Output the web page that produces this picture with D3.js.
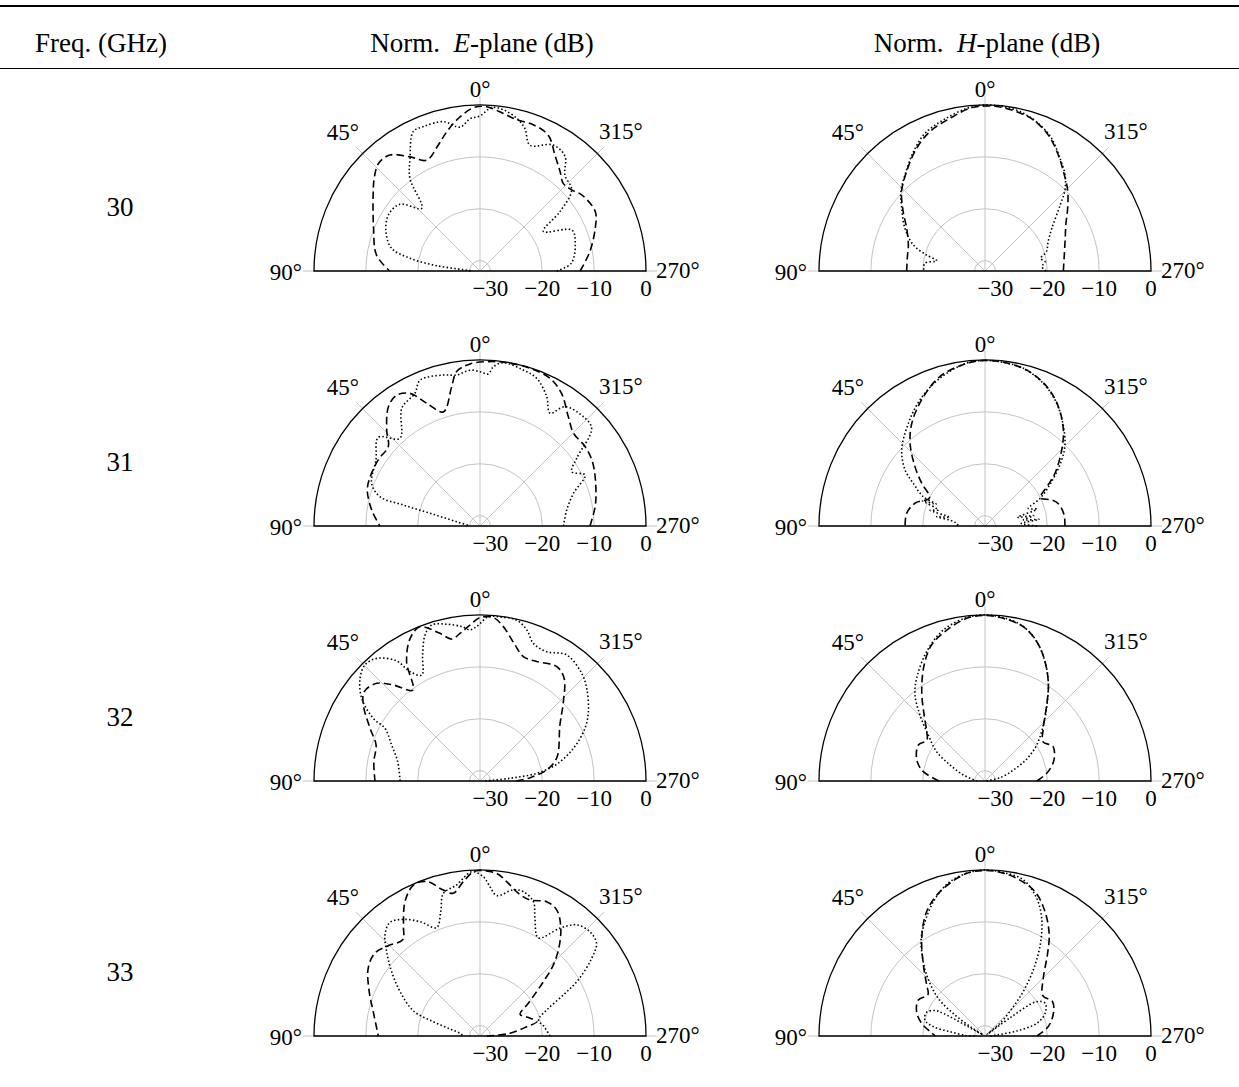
<!DOCTYPE html>
<html>
<head>
<meta charset="utf-8">
<script src="https://cdn.jsdelivr.net/npm/d3@7"></script>
<style>
  body { margin: 0; background: #fff; }
  svg { display: block; }
  text { font-family: "Liberation Serif", "Times New Roman", serif; fill: #000; }
</style>
</head>
<body>
<svg id="chart" width="1239" height="1087"></svg>
<script>
// Table contents
const frequencies = ["30", "31", "32", "33"];
const radialTicks = [-30, -20, -10, 0];            // dB rings
const angleTicks = [0, 45, 315];                     // spokes with labels
const sideLabels = ["90°", "270°"];

// Patterns: [angle in degrees, level in dB].
// Positive angles run toward 90° (left), negative angles are 270°..360° (right, angle − 360).
const e30Dashed = [[-90,-12.7],[-80,-10.5],[-69.6,-8.3],[-62.7,-7.0],[-53.2,-7.5],[-48.5,-8.4],[-43.5,-8.7],[-38.9,-7.4],[-32.9,-5.4],[-26.7,-2.7],[-20,-2.0],[-13.7,-2.0],[-8.4,-1.3],[-2.3,-0.3],[2.3,-0.5],[8.1,-2.3],[13.4,-4.4],[18.3,-6.4],[25.7,-8.3],[31.5,-6.2],[37.8,-3.7],[43.4,-3.5],[48.8,-4.9],[54.5,-6.7],[68.2,-9.9],[81.2,-11.8],[90,-14.6]];
const e30Dotted = [[-90,-17.2],[-85,-14.3],[-73,-12.8],[-66,-12.6],[-58,-17.6],[-53.4,-12.8],[-48.5,-8.4],[-41.5,-7.3],[-36.6,-4.5],[-30.2,-3.9],[-21.6,-5.9],[-17.5,-3.2],[-13.5,-1.7],[-8.2,-0.6],[-4.1,-0.4],[0,-2.1],[3.8,-2.6],[7.9,-4.0],[13.8,-2.35],[21.4,-2.1],[25.6,-2.2],[31.8,-6.4],[37.1,-9.6],[42.9,-15.5],[50.2,-11.9],[58.6,-11.3],[67.3,-12.35],[75.6,-14.4],[79.7,-18.3],[83,-23.6],[85.5,-28.8],[90,-30.4]];

const h30Dashed = [[-90,-16.9],[-80,-16.5],[-67.8,-15.3],[-60,-14.0],[-52.8,-12.0],[-45.6,-9.7],[-38.3,-7.6],[-32.3,-5.55],[-25,-3.1],[-17.7,-1.4],[-11.3,-0.7],[-5.2,-0.25],[0,-0.2],[5.3,-0.5],[12.9,-1.8],[21.5,-3.1],[29.1,-4.9],[38.3,-7.6],[46.4,-9.8],[54,-12.5],[61.4,-14.8],[71.3,-16.4],[80,-16.8],[90,-16.9]];
const h30Dotted = [[-90,-20.2],[-85.7,-21.0],[-81.2,-20.3],[-77.2,-21.0],[-72.6,-19.6],[-65.2,-18.6],[-57.4,-16.7],[-48.7,-12.7],[-44.6,-10.05],[-39.8,-7.9],[-33.6,-5.9],[-26.7,-3.4],[-20.6,-1.9],[-13.7,-0.7],[-6.4,-0.1],[0,0],[6.4,-0.45],[15.4,-1.8],[23.5,-3.05],[31,-5.2],[39.8,-7.9],[46.6,-9.7],[53,-11.9],[61.9,-14.5],[70,-17.3],[74.7,-20.3],[78,-22.5],[82.7,-20.3],[90,-20.2]];

const e31Dashed = [[-90,-10.8],[-80.5,-9.5],[-72.8,-8.6],[-60.9,-7.1],[-53,-6.6],[-45.2,-6.6],[-38.9,-4.9],[-31.6,-2.0],[-25.4,-0.5],[-17.6,-0.1],[-10.4,-0.1],[-4.6,-0.2],[3.5,-0.7],[8.6,-1.9],[11.5,-4.6],[17.8,-8.9],[23.5,-6.2],[27.8,-3.1],[32.5,-2.1],[37.5,-3.0],[44.2,-6.2],[49.1,-8.6],[57,-8.6],[65.9,-8.8],[72.3,-9.2],[81.6,-10.9],[90,-12.7]];
const e31Dotted = [[-90,-15.9],[-79.5,-15.0],[-70.7,-12.9],[-64.1,-9.5],[-59.4,-11.45],[-55,-9.25],[-48.8,-3.4],[-43.4,-3.0],[-35.5,-3.75],[-31.8,-6.4],[-27.3,-3.95],[-21,-1.5],[-15.5,-0.8],[-8.1,-0.2],[-4.8,-1.2],[-3.1,-2.65],[0,-2.25],[3.7,-1.9],[8.8,-2.55],[13.7,-2.05],[22.3,-1.6],[26.1,-3.5],[33.6,-4.75],[42.4,-9.1],[48.9,-6.0],[57.6,-8.25],[68.5,-9.55],[73.7,-11.9],[74.7,-16.7],[75.7,-22.05],[79.5,-27.4],[90,-30.1]];

const h31Dashed = [[-90,-16.6],[-82,-16.6],[-73.3,-17.2],[-68.7,-18.2],[-63,-20.0],[-57,-17.5],[-53,-15.1],[-45.3,-11.2],[-39.2,-8.1],[-31.6,-5.0],[-23.9,-2.6],[-15,-0.9],[-6.4,-0.25],[0,-0.1],[6.4,-0.45],[16.8,-1.9],[26.7,-4.8],[35.5,-7.7],[42.2,-10.5],[49.7,-14.3],[56,-17.3],[63,-20.0],[72,-17.8],[80.8,-16.7],[90,-16.6]];
const h31Dotted = [[-90,-22.0],[-86,-25.0],[-83,-21.5],[-81,-24.5],[-78,-22.4],[-75,-25.5],[-72,-21.5],[-68,-23.0],[-63.3,-20.1],[-56.4,-16.6],[-49.3,-12.5],[-44.6,-10.05],[-38.3,-7.6],[-30.3,-4.6],[-22.2,-2.3],[-13.7,-0.7],[-6.4,-0.25],[0,-0.1],[6.4,-0.4],[16.9,-2.2],[27.3,-4.65],[36.7,-7.3],[47.6,-10.25],[55,-13.2],[59.2,-15.9],[64.6,-18.8],[66,-21.7],[68,-19.0],[71,-22.5],[74,-21.0],[76,-25.0],[79,-22.5],[82,-26.0],[86,-26.5],[90,-27.2]];

const e32Dashed = [[-90,-25.0],[-86.2,-22.3],[-80.6,-19.0],[-73,-16.5],[-55,-13.2],[-46.4,-9.8],[-39.3,-6.4],[-33.9,-5.45],[-25.4,-6.5],[-19.2,-6.6],[-14.4,-4.9],[-8.6,-1.9],[-4.7,-0.4],[0,-0.5],[3.7,-1.9],[7.7,-3.3],[11.3,-4.1],[15.2,-2.5],[21.3,-0.1],[26.1,-1.4],[31.6,-5.0],[36.5,-10.2],[42.1,-7.05],[46.6,-4.6],[52.3,-3.8],[56.9,-5.15],[64.4,-8.5],[70.9,-10.8],[79.7,-11.2],[90,-11.75]];
const e32Dotted = [[-90,-31.0],[-84.9,-26.2],[-82.3,-21.0],[-77.7,-16.9],[-70.7,-12.9],[-63.3,-9.35],[-57.4,-7.2],[-49,-4.75],[-43.4,-3.45],[-34.5,-2.5],[-27.3,-3.95],[-21.2,-3.55],[-17.2,-1.5],[-12.8,-0.2],[-7,-0.15],[-2.9,-0.3],[1.2,-2.2],[3.8,-2.8],[6.8,-2.0],[12,-1.1],[17.2,-0.5],[20.6,-1.9],[24.5,-5.3],[28.8,-8.7],[32.6,-7.0],[34.8,-3.8],[40.1,-1.1],[44.8,-0.5],[49.4,-1.55],[55,-4.15],[59.6,-8.15],[61,-11.05],[67.8,-13.6],[76.8,-15.7],[90,-16.6]];

const h32Dashed = [[-90,-22.0],[-82.9,-20.0],[-73.1,-18.1],[-63,-17.3],[-56,-18.5],[-47.9,-16.85],[-39,-13.1],[-33.4,-9.8],[-26.7,-6.25],[-20.4,-3.35],[-13.9,-1.35],[-6.4,-0.45],[0,-0.1],[6.4,-0.45],[14.2,-2.0],[21.4,-3.8],[27.7,-6.75],[35.3,-10.9],[42.7,-14.7],[49.8,-17.3],[55,-18.3],[61.6,-17.4],[71.6,-18.1],[80.1,-19.6],[88.8,-22.7],[90,-23.3]];
const h32Dotted = [[-90,-31.7],[-77.6,-29.0],[-68.8,-26.1],[-62.2,-22.9],[-55.1,-19.85],[-46.2,-16.4],[-38.2,-12.55],[-32.5,-9.3],[-26.7,-6.25],[-20.4,-3.35],[-13.9,-1.3],[-6.4,-0.3],[0,0],[6.4,-0.3],[15.4,-1.8],[24.3,-4.65],[33.6,-8.2],[39.1,-10.6],[44.6,-14.15],[50.9,-17.9],[58.8,-21.1],[65.4,-24.6],[74.5,-27.7],[90,-30.4]];

const e33Dashed = [[-90,-30.7],[-84.9,-26.2],[-78.7,-22.8],[-75.8,-20.7],[-69.2,-22.0],[-61.5,-23.2],[-55.9,-20.75],[-49.4,-15.9],[-45.9,-12.3],[-41.1,-8.7],[-36,-5.55],[-31.3,-3.55],[-26.4,-3.1],[-20.2,-4.05],[-15,-3.5],[-9.8,-1.8],[-5.9,-0.5],[0,-0.1],[2.3,-0.3],[6.2,-2.1],[10.6,-4.0],[14.1,-3.0],[19,-0.5],[23.8,-0.2],[29.2,-2.35],[34.6,-6.0],[38.8,-8.2],[45.4,-7.2],[51.8,-6.2],[58.8,-6.8],[68.2,-9.0],[77.2,-10.9],[90,-12.4]];
const e33Dotted = [[-90,-18.5],[-81.7,-19.5],[-74.7,-20.3],[-68.7,-18.2],[-63.8,-14.1],[-60.3,-10.2],[-55.2,-5.8],[-51.5,-3.3],[-46.5,-2.8],[-41,-3.6],[-36.6,-6.1],[-30.7,-10.0],[-25,-6.95],[-21.7,-4.15],[-16.7,-2.95],[-12.8,-3.1],[-6.8,-4.75],[-3.8,-3.15],[-1.2,-1.3],[2.9,-0.3],[9,-2.6],[14.4,-3.6],[17.5,-6.85],[21.8,-9.5],[27.7,-7.1],[33.3,-5.1],[38.4,-4.05],[43.2,-5.25],[48.9,-8.3],[53.9,-10.9],[61,-14.4],[69.4,-18.3],[73,-22.6],[76.9,-26.1],[82.3,-28.1],[90,-28.8]];

const h33Dashed = [[-90,-22.0],[-81.6,-19.7],[-71.6,-18.1],[-63.1,-17.4],[-55,-18.4],[-45.3,-16.2],[-37.6,-12.3],[-32.4,-8.9],[-25.8,-5.4],[-19.1,-2.55],[-11.4,-1.0],[-5.2,-0.3],[0,-0.1],[6.4,-0.45],[17.3,-2.85],[25.1,-5.5],[32.9,-9.55],[41,-13.9],[48.8,-17.05],[54,-18.4],[61.6,-17.4],[70.4,-18.0],[78.7,-19.55],[85.5,-21.4],[90,-22.4]];
const h33Dotted = [[-90,-31.0],[-85,-29.7],[-81,-25.8],[-76.2,-21.7],[-69.3,-19.6],[-61.4,-18.8],[-56.4,-20.05],[-54,-26.0],[-52,-31.5],[-49.8,-28.2],[-44,-24.1],[-40,-20.0],[-35.2,-15.3],[-30.6,-10.9],[-25.7,-6.8],[-20.6,-3.65],[-13.8,-1.0],[-5,-0.2],[0,0],[5.2,-0.3],[12.8,-1.5],[21,-4.25],[32.1,-9.0],[36.9,-11.7],[43.7,-15.7],[51.1,-20.4],[55,-25.0],[58,-29.0],[60,-31.5],[61.5,-23.0],[63,-21.2],[67.9,-19.85],[75.1,-20.0],[79.8,-21.9],[83,-25.2],[89,-28.5],[90,-30.0]];

const ePlane = [[e30Dashed, e30Dotted], [e31Dashed, e31Dotted], [e32Dashed, e32Dotted], [e33Dashed, e33Dotted]];
const hPlane = [[h30Dashed, h30Dotted], [h31Dashed, h31Dotted], [h32Dashed, h32Dotted], [h33Dashed, h33Dotted]];

// Layout
const W = 1239;
const R = 166;
const colX = { freq: 120, e: 480, h: 985 };
const rowY = i => 271 + i * 255;
const gridColor = "#c4c4c4";

const svg = d3.select("#chart");
const rad = d => d * Math.PI / 180;
const rScale = d3.scaleLinear().domain([-32, 0]).range([0, R]);

// Table rules and header
svg.append("line").attr("x1", 0).attr("x2", W).attr("y1", 6).attr("y2", 6)
  .attr("stroke", "#000").attr("stroke-width", 1.8);
svg.append("line").attr("x1", 0).attr("x2", W).attr("y1", 68.5).attr("y2", 68.5)
  .attr("stroke", "#000").attr("stroke-width", 1.2);

const header = svg.append("g").attr("font-size", 27);
header.append("text").attr("x", 101).attr("y", 52).attr("text-anchor", "middle")
  .text("Freq. (GHz)");
[["e", "E"], ["h", "H"]].forEach(([key, letter]) => {
  const t = header.append("text").attr("x", colX[key] + 2).attr("y", 52).attr("text-anchor", "middle")
    .attr("xml:space", "preserve");
  t.append("tspan").text("Norm.  ");
  t.append("tspan").attr("font-style", "italic").text(letter);
  t.append("tspan").text("-plane (dB)");
});

// Row labels
frequencies.forEach((f, i) => {
  svg.append("text").attr("x", colX.freq).attr("y", rowY(i) - 55)
    .attr("text-anchor", "middle").attr("font-size", 27).text(f);
});

const line = d3.lineRadial()
  .angle(d => -rad(d[0]))
  .radius(d => rScale(Math.max(-32, d[1])))
  .curve(d3.curveCatmullRom.alpha(0.5));

function drawPanel(cx, cy, dashed, dotted) {
  const g = svg.append("g").attr("transform", `translate(${cx},${cy})`);

  // gray dB rings (upper half)
  radialTicks.filter(t => t < 0).forEach(t => {
    const p = d3.path();
    const r = rScale(t);
    p.moveTo(-r, 0);
    p.arc(0, 0, r, Math.PI, 2 * Math.PI);
    g.append("path").attr("d", p.toString()).attr("fill", "none")
      .attr("stroke", gridColor).attr("stroke-width", 1);
  });

  // spokes
  angleTicks.forEach(a => {
    const len = R + 9;
    g.append("line").attr("x1", 0).attr("y1", 0)
      .attr("x2", -len * Math.sin(rad(a))).attr("y2", -len * Math.cos(rad(a)))
      .attr("stroke", gridColor).attr("stroke-width", 1);
  });
  g.append("line").attr("x1", -R - 11).attr("x2", R + 11).attr("y1", 0).attr("y2", 0)
    .attr("stroke", gridColor).attr("stroke-width", 1);

  // outer border
  const outer = d3.path();
  outer.moveTo(-R, 0);
  outer.arc(0, 0, R, Math.PI, 2 * Math.PI);
  outer.closePath();
  g.append("path").attr("d", outer.toString()).attr("fill", "none")
    .attr("stroke", "#000").attr("stroke-width", 1.3);

  // patterns
  g.append("path").datum(dashed).attr("d", line).attr("fill", "none")
    .attr("stroke", "#000").attr("stroke-width", 1.6).attr("stroke-dasharray", "7.5,4");
  g.append("path").datum(dotted).attr("d", line).attr("fill", "none")
    .attr("stroke", "#000").attr("stroke-width", 1.6).attr("stroke-dasharray", "1.5,2.3");

  // labels
  const lab = g.append("g").attr("font-size", 23);
  lab.append("text").attr("x", 0).attr("y", -174).attr("text-anchor", "middle").text("0°");
  lab.append("text").attr("x", -121).attr("y", -131).attr("text-anchor", "end").text("45°");
  lab.append("text").attr("x", 119).attr("y", -132).attr("text-anchor", "start").text("315°");
  lab.append("text").attr("x", -R - 12).attr("y", 9).attr("text-anchor", "end").text(sideLabels[0]);
  lab.append("text").attr("x", R + 10).attr("y", 7).attr("text-anchor", "start").text(sideLabels[1]);
  radialTicks.forEach(t => {
    lab.append("text").attr("x", rScale(t)).attr("y", 25).attr("text-anchor", "middle")
      .text(t < 0 ? "\u2212" + Math.abs(t) : String(t));
  });
}

frequencies.forEach((f, i) => {
  drawPanel(colX.e, rowY(i), ePlane[i][0], ePlane[i][1]);
  drawPanel(colX.h, rowY(i), hPlane[i][0], hPlane[i][1]);
});
</script>
</body>
</html>
